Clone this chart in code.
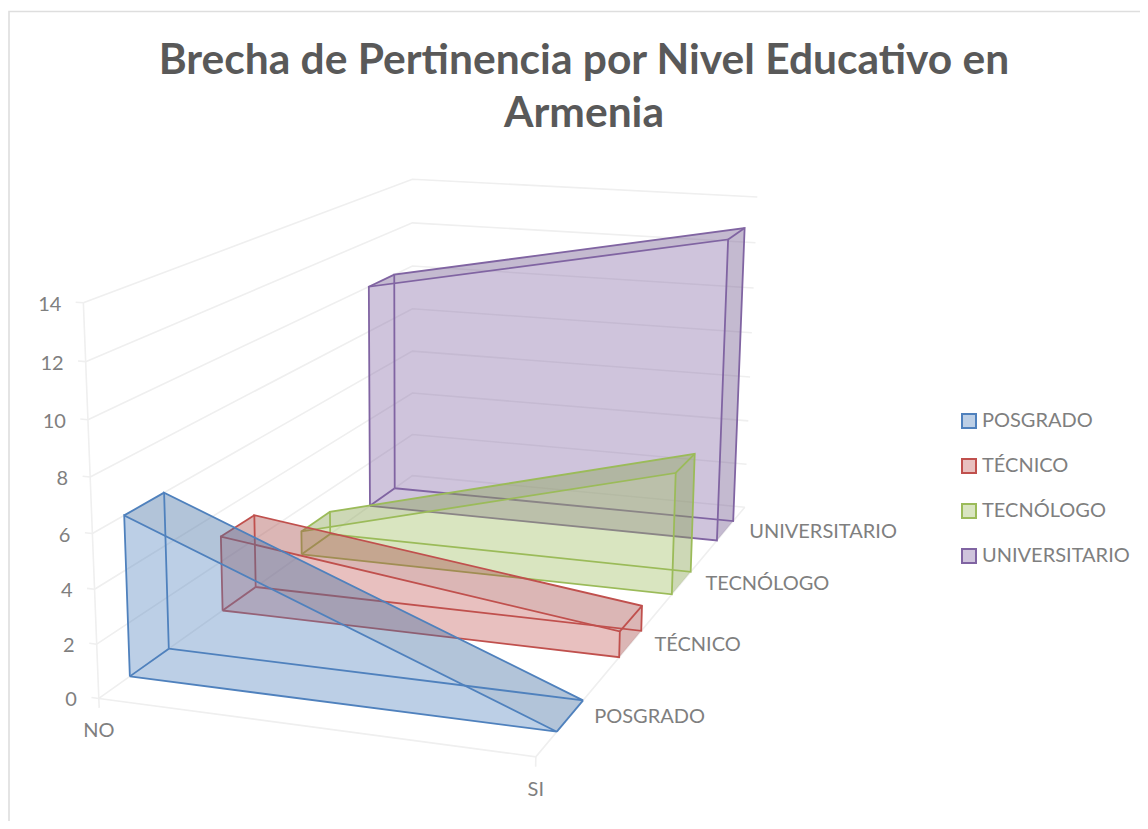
import numpy as np, altair as alt, pandas as pd

TITLE = ["Brecha de Pertinencia por Nivel Educativo en", "Armenia"]
SERIES = ["POSGRADO", "TÉCNICO", "TECNÓLOGO", "UNIVERSITARIO"]
CATEGORIES = ["NO", "SI"]
POSGRADO = [6, 0]
TECNICO = [3, 1]
TECNOLOGO = [1, 5]
UNIVERSITARIO = [10, 13]
Y_TICKS = [0, 2, 4, 6, 8, 10, 12, 14]
VALUES = [POSGRADO, TECNICO, TECNOLOGO, UNIVERSITARIO]

STROKES = ["#4F81BD", "#C0504D", "#9BBB59", "#8064A2"]
FILLS = ["rgba(79,129,189,0.38)", "rgba(192,80,77,0.36)", "rgba(155,187,89,0.38)", "rgba(128,100,162,0.38)"]
FONT = "Lato"
W, H = 1132, 813

# Camera of the 3-D box: (category, depth, value) -> page pixel
CAMERA = [((0, 0, 0), (99, 698)), ((1, 0, 0), (536, 757)), ((0, 1, 0), (412, 476)), ((1, 1, 0), (745, 507)),
          ((0, 0, 14), (83, 303)), ((0, 1, 14), (413, 179)), ((1, 1, 14), (757, 197))]
A = []
for (u, v, w), (x, y) in CAMERA:
    A.append([u, v, w, 1, 0, 0, 0, 0, -x*u, -x*v, -x*w, -x])
    A.append([0, 0, 0, 0, u, v, w, 1, -y*u, -y*v, -y*w, -y])
P = np.linalg.svd(np.array(A, float))[2][-1].reshape(3, 4)


def proj(u, v, w):
    r = P @ np.array([u, v, w, 1.0])
    return float(r[0]/r[2]), float(r[1]/r[2])


def hull(points):
    pts = sorted(set(points))
    def half(seq):
        out = []
        for p in seq:
            while len(out) >= 2 and (out[-1][0]-out[-2][0])*(p[1]-out[-2][1]) - (out[-1][1]-out[-2][1])*(p[0]-out[-2][0]) <= 0:
                out.pop()
            out.append(p)
        return out[:-1]
    return half(pts) + half(pts[::-1])


def paths(items, **extra):
    rows = []
    for k, path in enumerate(items):
        for i, (x, y) in enumerate(path):
            rows.append({"x": x, "y": y, "path": k, "i": i, **extra})
    return pd.DataFrame(rows)


X = alt.X("x:Q", axis=None, scale=alt.Scale(domain=[8, 8+W], nice=False, zero=False))
Y = alt.Y("y:Q", axis=None, scale=alt.Scale(domain=[8+H, 8], nice=False, zero=False))
fill_scale = alt.Scale(domain=SERIES, range=FILLS)
stroke_scale = alt.Scale(domain=SERIES, range=STROKES)
LEGEND = alt.Legend(title=None, orient="none", legendX=951, legendY=403, symbolType="square", symbolSize=196,
                    symbolStrokeWidth=2, labelFont=FONT, labelFontSize=20, labelColor="#7F7F7F", labelOffset=3,
                    rowPadding=23, labelLimit=300)


def lines(items, color, width=1.8):
    return alt.Chart(paths(items)).mark_line(color=color, strokeWidth=width).encode(
        x=X, y=Y, detail="path:N", order="i:Q")


def labels(rows, align, dx=0, dy=0):
    return alt.Chart(pd.DataFrame(rows)).mark_text(
        align=align, baseline="middle", dx=dx, dy=dy, font=FONT, fontSize=20, color="#7F7F7F"
    ).encode(x=X, y=Y, text="t:N")


# walls, floor and ticks
TOP = Y_TICKS[-1]
grid = []
for t in Y_TICKS:
    grid.append([proj(0, 0, t), proj(0, 1, t), proj(1, 1, t)])
    grid.append([proj(-0.018, -0.0, t), proj(0, 0, t)])
grid.append([proj(0, 0, 0), proj(0, 0, TOP)])
grid.append([proj(0, 0, 0), proj(1, 0, 0), proj(1, 1, 0)])
grid.append([proj(0, 0, 0), proj(0, 0, -0.35)])
grid.append([proj(1, 0, 0), proj(1, 0, -0.35)])
layers = [lines(grid, "#EFEFEF", 1.6)]

frame = [[(9, 829), (9, 11.5), (1148, 11.5)]]
layers.append(lines(frame, "#DEDEDE", 1.6))

# one translucent prism per series, back to front
for idx in [3, 2, 1, 0]:
    name, vals, stroke = SERIES[idx], VALUES[idx], STROKES[idx]
    v0, v1 = (idx + 0.3) / 4, (idx + 0.7) / 4
    fb0, fb1 = proj(0, v0, 0), proj(1, v0, 0)
    bb0, bb1 = proj(0, v1, 0), proj(1, v1, 0)
    ft0, ft1 = proj(0, v0, vals[0]), proj(1, v0, vals[1])
    bt0, bt1 = proj(0, v1, vals[0]), proj(1, v1, vals[1])
    body = paths([hull([fb0, fb1, bb0, bb1, ft0, ft1, bt0, bt1])], s=name)
    layers.append(alt.Chart(body).mark_line(strokeWidth=0).encode(
        x=X, y=Y, order="i:Q", fill=alt.Fill("s:N", scale=fill_scale, legend=LEGEND)))
    shade = paths([[ft0, bt0, bt1, ft1], [fb1, bb1, bt1, ft1]])
    layers.append(alt.Chart(shade).mark_line(strokeWidth=0, fill="rgba(50,50,50,0.07)").encode(
        x=X, y=Y, detail="path:N", order="i:Q"))
    edges = [[fb0, fb1, ft1, ft0, fb0], [bb0, bb1, bt1, bt0, bb0],
             [fb0, bb0], [ft0, bt0], [ft1, bt1]]
    layers.append(lines(edges, stroke, 1.8))

# axis labels
layers.append(labels([{"x": proj(0, 0, t)[0], "y": proj(0, 0, t)[1], "t": str(t)} for t in Y_TICKS], "right", dx=-22, dy=2))
layers.append(labels([{"x": proj(u, 0, 0)[0], "y": proj(u, 0, 0)[1], "t": c}
                      for u, c in enumerate(CATEGORIES)], "center", dy=33))
layers.append(labels([{"x": proj(1, (i + 0.5) / 4, 0)[0], "y": proj(1, (i + 0.5) / 4, 0)[1], "t": s}
                      for i, s in enumerate(SERIES)], "left", dx=24, dy=1))

# legend carrier
key = pd.DataFrame({"x": [100]*4, "y": [100]*4, "s": SERIES})
layers.append(alt.Chart(key).mark_square(size=0, opacity=1).encode(
    x=X, y=Y,
    fill=alt.Fill("s:N", scale=fill_scale, legend=LEGEND),
    stroke=alt.Stroke("s:N", scale=stroke_scale, legend=LEGEND)))

chart = alt.layer(*layers).properties(
    width=W, height=H, padding=0, autosize=alt.AutoSizeParams(type="none"),
    title=alt.TitleParams(text=TITLE, font=FONT, fontSize=42.5, fontWeight="bold", color="#595959",
                          anchor="middle", lineHeight=53, baseline="top", dy=127, dx=10, offset=0)
).configure_view(stroke=None)
chart.save("out.html", embed_options={"renderer": "svg", "actions": False})
